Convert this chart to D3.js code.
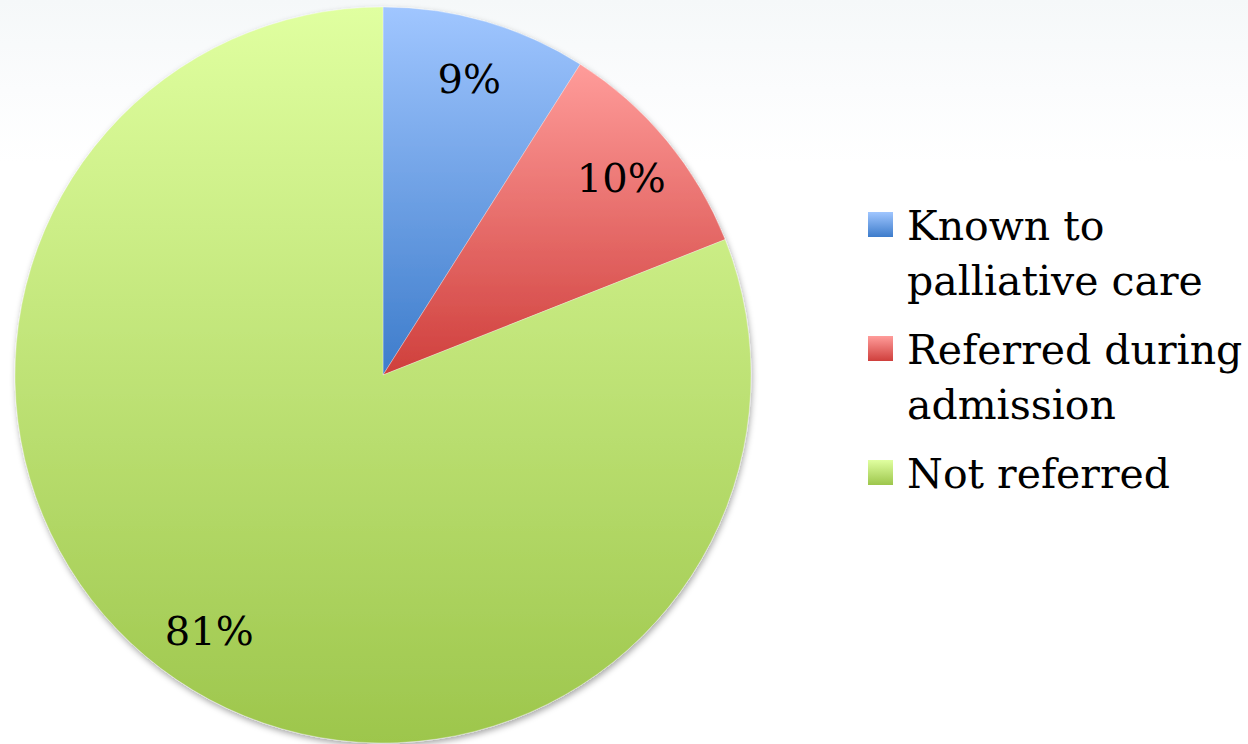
<!DOCTYPE html>
<html>
<head>
<meta charset="utf-8">
<script src="https://cdn.jsdelivr.net/npm/d3@7"></script>
<style>
  html, body { margin: 0; padding: 0; background: #ffffff; }
  svg { display: block; }
</style>
</head>
<body>
<svg id="chart" width="1248" height="744"></svg>
<script>
// Palliative care referral status
const categories = ["Known to palliative care", "Referred during admission", "Not referred"];
const values = [9, 10, 81];
const pctLabels = ["9%", "10%", "81%"];
const legendLines = [["Known to", "palliative care"], ["Referred during", "admission"], ["Not referred"]];
// gradient stops (top, bottom) for each slice
const topColors = ["#a0c6ff", "#ff9c9a", "#e0ffa0"];
const bottomColors = ["#3d7ccb", "#cf3f3c", "#9dc64c"];

const W = 1248, H = 744;
const cx = 383, cy = 375, R = 368;
const fontFamily = "'DejaVu Serif', 'Liberation Serif', serif";

const svg = d3.select("#chart");
const defs = svg.append("defs");

// faint slide background haze along the top
const bg = defs.append("linearGradient").attr("id", "bg")
  .attr("x1", 0).attr("y1", 0).attr("x2", 0).attr("y2", 1);
bg.append("stop").attr("offset", 0).attr("stop-color", "#f5f8f9");
bg.append("stop").attr("offset", 0.12).attr("stop-color", "#fbfcfd");
bg.append("stop").attr("offset", 0.22).attr("stop-color", "#ffffff");
svg.append("rect").attr("width", W).attr("height", H).attr("fill", "url(#bg)");

categories.forEach((c, i) => {
  const g = defs.append("linearGradient").attr("id", "grad" + i)
    .attr("x1", 0).attr("y1", 0).attr("x2", 0).attr("y2", 1);
  g.append("stop").attr("offset", 0).attr("stop-color", topColors[i]);
  g.append("stop").attr("offset", 1).attr("stop-color", bottomColors[i]);
});

const shadow = defs.append("filter").attr("id", "shadow")
  .attr("x", "-10%").attr("y", "-10%").attr("width", "120%").attr("height", "120%");
shadow.append("feDropShadow").attr("dx", 1).attr("dy", 3)
  .attr("stdDeviation", 3).attr("flood-color", "#000").attr("flood-opacity", 0.35);

const pie = d3.pie().sort(null).value(d => d)(values);
const arc = d3.arc().innerRadius(0).outerRadius(R);
const labelArc = d3.arc().innerRadius(R * 0.84).outerRadius(R * 0.84);

const pieG = svg.append("g").attr("transform", `translate(${cx},${cy})`);

pieG.append("g").attr("filter", "url(#shadow)")
  .selectAll("path").data(pie).join("path")
  .attr("d", arc)
  .attr("fill", (d, i) => `url(#grad${i})`)
  .attr("stroke", "rgba(255,255,255,0.5)")
  .attr("stroke-width", 0.6);

pieG.selectAll("text.pct").data(pie).join("text")
  .attr("class", "pct")
  .attr("transform", d => `translate(${labelArc.centroid(d)})`)
  .attr("dy", "0.36em")
  .attr("text-anchor", "middle")
  .attr("font-family", fontFamily)
  .attr("font-size", 40)
  .attr("fill", "#000")
  .text((d, i) => pctLabels[i]);

// legend
const legend = svg.append("g").attr("transform", "translate(868,0)");
const swatchY = [212, 336, 460];
const lineH = 55;
categories.forEach((c, i) => {
  legend.append("rect")
    .attr("x", 0).attr("y", swatchY[i])
    .attr("width", 25).attr("height", 25)
    .attr("fill", `url(#grad${i})`);
  const t = legend.append("text")
    .attr("x", 39).attr("y", swatchY[i] + 28)
    .attr("font-family", fontFamily)
    .attr("font-size", 41)
    .attr("fill", "#000");
  legendLines[i].forEach((ln, j) => {
    t.append("tspan").attr("x", 39).attr("dy", j === 0 ? 0 : lineH).text(ln);
  });
});
</script>
</body>
</html>
